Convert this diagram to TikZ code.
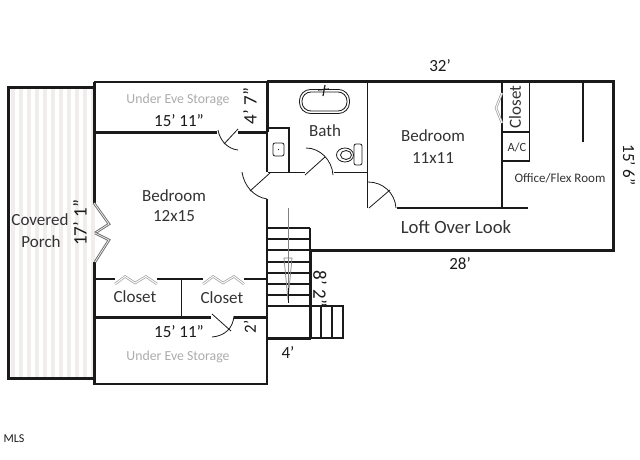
\documentclass[tikz,border=0pt]{standalone}
\usepackage{fontspec}
\setmainfont{Carlito}
\definecolor{ink}{HTML}{1A1A1A}
\definecolor{txt}{HTML}{333333}
\definecolor{stripe}{HTML}{F2EDED}
\tikzset{
  thick wall/.style={draw=ink,line width=3pt},
  thin wall/.style={draw=ink,line width=1.8pt},
  swing/.style={draw=ink,line width=.8pt},
  bifold/.style={draw=gray!75,line width=.7pt,double=white,double distance=1pt},
  room/.style={text=txt,font=\fontsize{17}{17}\selectfont,inner sep=0pt},
  dim/.style={text=ink,font=\fontsize{17}{17}\selectfont,inner sep=0pt},
  dimtall/.style={text=ink,font=\fontsize{19}{19}\selectfont,inner sep=0pt},
  faint/.style={text=gray!65,font=\fontsize{13.8}{13.8}\selectfont,inner sep=0pt},
}
\begin{document}
\begin{tikzpicture}[x=1pt,y=-1pt]
\useasboundingbox[fill=white] (0,0) rectangle (640,460);
% porch
\foreach \s in {13,21,...,93}{\fill[stripe] (\s-2,89) rectangle (\s+2,377);}
\draw[thick wall] (94,87.5) -- (8,87.5) -- (8,378) -- (94,378);
% walls of left wing
\draw[thin wall] (94,82) -- (267,82);
\draw[thick wall] (94,82) -- (94,204);
\draw[thick wall] (94,262) -- (94,385);
\draw[thick wall] (94,132) -- (217,132);
\draw[thick wall] (238,132) -- (267,132);
\draw[thin wall] (94,384) -- (267,384) -- (267,317);
\draw[thick wall] (94,317) -- (211,317);
\draw[thick wall] (234,317) -- (267,317);
\draw[thin wall] (94,279) -- (115,279);
\draw[thin wall] (157,279) -- (203,279);
\draw[thin wall] (244,279) -- (267,279);
\draw[thin wall] (181.5,279) -- (181.5,317);
% main upper rectangle
\draw[thick wall] (267,82) -- (613,82) -- (613,250) -- (310,250);
\draw[thick wall] (267,82) -- (267,132);
\draw[thin wall] (267,132) -- (267,172);
\draw[thin wall] (267,199) -- (267,340);
\draw[thin wall] (267,128) -- (289,128) -- (289,172);
\draw[thin wall] (268,172.5) -- (305,172.5);
\draw[thin wall] (334,172.5) -- (367.5,172.5);
\draw[thin wall] (367.5,82) -- (367.5,208);
\draw[thin wall] (397,208) -- (528,208);
\draw[thin wall] (502,82) -- (502,208);
\draw[thin wall] (529.5,82) -- (529.5,161) -- (502,161);
\draw[thin wall] (502,132) -- (529.5,132);
\draw[thin wall] (583,82) -- (583,142);
% stairs
\foreach \t in {228,239,250,262,273,284,295,306}{\draw[thin wall] (267,\t) -- (310,\t);}
\draw[thin wall] (310,228) -- (310,250);
\draw[thick wall] (310,250) -- (310,339);
\draw[thick wall] (266,338) -- (311,338);
\draw[thin wall] (310,306) -- (343,306) -- (343,338) -- (310,338);
\draw[thin wall] (321,306) -- (321,338);
\draw[thin wall] (332,306) -- (332,338);
\draw[draw=gray,line width=.8pt] (288,208) -- (288,290);
\draw[draw=gray,line width=.7pt] (284,258) -- (292,258) -- (288,300) -- cycle;
\draw[draw=ink,line width=1pt] (288,288) -- (288,303);
% doors
\draw[swing] (238,129) -- (224,144);
\draw[swing] (218,130) .. controls (220,141) and (228,149) .. (238,150);
\draw[swing] (212,314) -- (231,331);
\draw[swing] (234,316) .. controls (233,328) and (225,336) .. (212,337);
\draw[swing] (270,173) -- (250,191);
\draw[swing] (242,172) .. controls (244,186) and (254,197) .. (267,199);
\draw[swing] (305,175) -- (325,157);
\draw[swing] (306,148) .. controls (320,148) and (332,160) .. (333,175);
\draw[swing] (369,208) -- (390,190);
\draw[swing] (368,182) .. controls (383,182) and (395,193) .. (396,208);
% bifold doors
\draw[bifold] (115,284) -- (125,276.5) -- (135,283) -- (146,276.5) -- (157,284);
\draw[bifold] (203,284) -- (213,276.5) -- (223,283) -- (234,276.5) -- (244,284);
\draw[draw=gray!90!black,line width=1pt,double=white,double distance=.6pt] (94,203) -- (109,224) -- (95,233);
\draw[draw=gray!90!black,line width=1pt,double=white,double distance=.6pt] (95,233) -- (109,240) -- (95,262);
\draw[bifold] (502,93) -- (496,108) -- (502,123);
% fixtures
\draw[draw=ink,line width=.8pt,rounded corners=11pt] (299.5,89.5) rectangle (349.5,113.5);
\draw[draw=ink,line width=.8pt,rounded corners=9pt] (302,92) rectangle (347,111);
\draw[draw=ink,line width=1.2pt] (318,90) -- (329,89) (325,85) -- (323,96);
\draw[draw=ink,line width=.8pt,rounded corners=2pt] (273,143) rectangle (284,156);
\fill[ink] (278.5,149.5) circle (.6);
\draw[draw=ink,line width=.8pt,rounded corners=2pt] (354,144) rectangle (362,165);
\draw[draw=ink,line width=.8pt] (345,155) ellipse (8.5 and 7);
\draw[draw=ink,line width=.8pt] (346,155) ellipse (5.5 and 4.5);
% labels
\node[faint] (storeA) at (178,100) {Under Eve Storage};
\node[faint] (storeB) at (178,357) {Under Eve Storage};
\node[dim] (dimA) at (179,121) {15' 11"};
\node[dim] (dimB) at (179,332) {15' 11"};
\node[dimtall,rotate=90] (dimC) at (250,106) {4' 7"};
\node[dim,rotate=90] (dimD) at (250,327) {2'};
\node[dimtall,rotate=90] (dimE) at (80,223) {17' 1"};
\node[dimtall,rotate=-90] (dimF) at (320,289) {8' 2"};
\node[dim] (dimG) at (288,353) {4'};
\node[dim] (dimH) at (440,66) {32'};
\node[dim] (dimI) at (460,264) {28'};
\node[dim,rotate=-90] (dimJ) at (629,165) {15' 6"};
\node[room] (cov) at (40,220) {Covered};
\node[room] (por) at (41,242) {Porch};
\node[room] (bedA) at (174,196) {Bedroom};
\node[room] (bedAs) at (174,216) {12x15};
\node[room] (bedB) at (433,136) {Bedroom};
\node[room] (bedBs) at (433,158) {11x11};
\node[room] (bath) at (325,131) {Bath};
\node[room,font=\fontsize{18.7}{18.7}\selectfont] (loft) at (456,227) {Loft Over Look};
\node[room,font=\fontsize{13}{13}\selectfont] (office) at (560,178) {Office/Flex Room};
\node[room] (cloA) at (135,297) {Closet};
\node[room] (cloB) at (222,298) {Closet};
\node[room,rotate=90] (cloC) at (515,107) {Closet};
\node[room,font=\fontsize{12.5}{12.5}\selectfont] (ac) at (517,147) {A/C};
\node[text=ink,font=\fontsize{12}{12}\selectfont,inner sep=0pt] (mls) at (14,439) {MLS};
\end{tikzpicture}
\end{document}
